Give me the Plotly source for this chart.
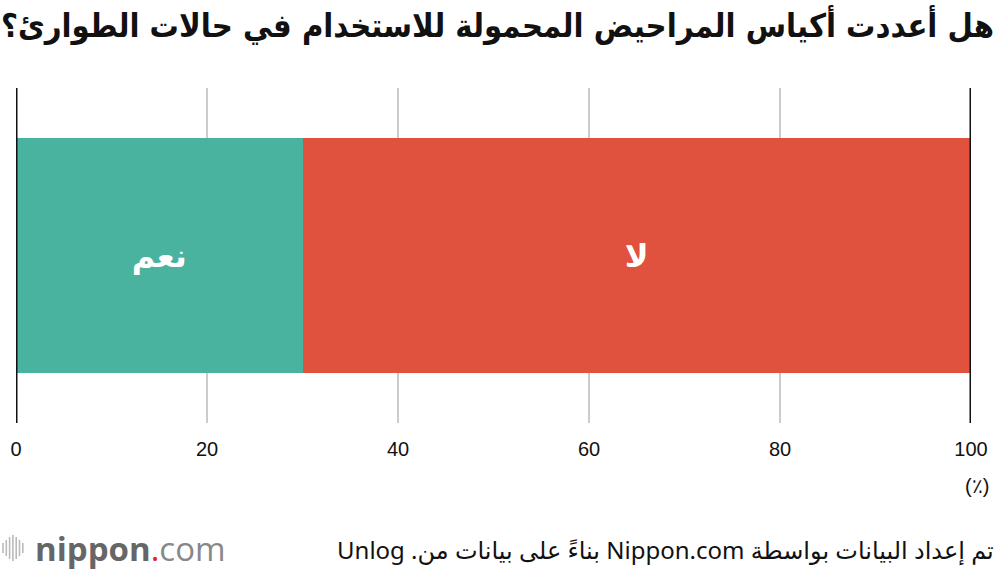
import plotly.graph_objects as go

categories = ["نعم", "لا"]
values = [30, 70]
colors = ["#4AB3A0", "#E0523E"]
tick_vals = [0, 20, 40, 60, 80, 100]
tick_text = ["0", "20", "40", "60", "80", "100"]

title_text = "هل أعددت أكياس المراحيض المحمولة للاستخدام في حالات الطوارئ؟"
source_text = "تم إعداد البيانات بواسطة Nippon.com بناءً على بيانات من. Unlog"
unit_text = "(٪)"

RLE, PDF = "\u202B", "\u202C"

fig = go.Figure()
for cat, val, col in zip(categories, values, colors):
    fig.add_trace(go.Bar(
        x=[val], y=["q"], orientation="h", name=cat,
        marker=dict(color=col, line=dict(width=0)),
        text=[cat], textposition="inside", insidetextanchor="middle",
        textfont=dict(color="white", size=32, family="DejaVu Sans", weight="bold"),
        textangle=0, hoverinfo="skip",
    ))

fig.update_layout(
    barmode="stack", bargap=0.3, width=1000, height=570,
    margin=dict(l=16, r=29, t=88, b=147),
    paper_bgcolor="white", plot_bgcolor="white", showlegend=False,
)
fig.update_xaxes(
    range=[0, 100], tickvals=tick_vals, ticktext=tick_text,
    showgrid=True, gridcolor="#CCCCCC", gridwidth=2, zeroline=False,
    showline=False, ticks="", ticklabelstandoff=12, automargin=False,
    tickfont=dict(family="Liberation Sans", size=20, color="#111111"),
)
fig.update_yaxes(showticklabels=False, showgrid=False, zeroline=False,
                 range=[-0.5, 0.5], automargin=False)

for v in (tick_vals[0], tick_vals[-1]):
    fig.add_shape(type="line", xref="x", yref="paper", x0=v, x1=v, y0=0, y1=1,
                  line=dict(color="#111111", width=3), layer="above")

fig.add_annotation(text=RLE + title_text + PDF, xref="paper", yref="paper", x=1, y=1,
                   xanchor="right", yanchor="middle", showarrow=False,
                   yshift=64, xshift=25,
                   font=dict(family="DejaVu Sans Condensed, DejaVu Sans", size=32.5,
                             color="#111111", weight="bold"))
fig.add_annotation(text=unit_text, xref="x", yref="paper", x=100, y=0,
                   xanchor="center", yanchor="middle", showarrow=False, yshift=-63, xshift=6,
                   font=dict(family="Liberation Sans", size=20, color="#111111"))
fig.add_annotation(text=RLE + source_text + PDF, xref="paper", yref="paper", x=1, y=0,
                   xanchor="right", yanchor="middle", showarrow=False,
                   yshift=-126, xshift=25,
                   font=dict(family="Noto Sans, DejaVu Sans", size=24, color="#111111"))
fig.add_annotation(
    text="<b>nippon</b><span style='color:#E8202A'>.</span><span style='color:#888888'>com</span>",
    xref="paper", yref="paper", x=0, y=0, xanchor="left", yanchor="middle",
    showarrow=False, yshift=-125, xshift=17,
    font=dict(family="Open Sans", size=33, color="#666666"))
bar_h = [10, 16, 22, 26, 22, 16, 10]
for i, h in enumerate(bar_h):
    xp = 3 + i * 3.3
    fig.add_shape(type="line", xref="paper", yref="paper",
                  x0=(xp - 16) / 955, x1=(xp - 16) / 955,
                  y0=(423 - (548 + h / 2)) / 335,
                  y1=(423 - (548 - h / 2)) / 335,
                  line=dict(color="#BBBBBB", width=1.6))

fig.write_html("out.html", config={"displayModeBar": False},
               post_script="document.body.style.margin='0';")
